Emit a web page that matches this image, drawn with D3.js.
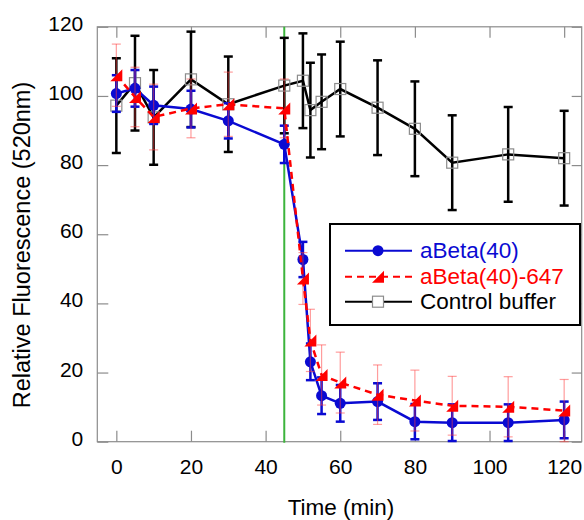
<!DOCTYPE html>
<html>
<head>
<meta charset="utf-8">
<script src="https://cdn.jsdelivr.net/npm/d3@7"></script>
<style>
  body { margin: 0; background: #fff; }
  svg text { font-family: Arial, "Liberation Sans", sans-serif; }
</style>
</head>
<body>
<div id="chart"></div>
<script>
const times = [0, 5, 10, 20, 30, 45, 50, 52, 55, 60, 70, 80, 90, 105, 120];

const abeta = [100.7, 102.2, 97.3, 96.2, 92.8, 86.0, 52.7, 23.1, 13.3, 11.1, 11.6, 5.8, 5.5, 5.5, 6.3];
const abetaErr = [5.3, 5.3, 5.4, 5.3, 5.1, 5.4, 5.1, 5.3, 5.3, 5.3, 5.3, 5.1, 5.3, 5.3, 5.3];

const abeta647 = [106.0, 99.7, 93.9, 96.4, 97.6, 96.4, 47.2, 29.3, 19.3, 17.1, 13.6, 11.9, 10.4, 10.1, 9.0];
const abeta647Err = [9.0, 8.6, 9.5, 8.5, 9.3, 8.5, 7.5, 9.0, 8.7, 8.8, 8.6, 8.8, 8.5, 8.7, 9.0];

const control = [97.2, 103.7, 93.8, 104.8, 97.6, 103.0, 104.4, 95.9, 98.3, 102.0, 96.6, 90.5, 80.7, 83.1, 82.0];
const controlErr = [13.7, 13.7, 13.7, 13.8, 13.8, 13.8, 13.7, 13.7, 13.7, 13.7, 13.7, 13.7, 13.7, 13.7, 13.7];

const xTicks = [0, 20, 40, 60, 80, 100, 120];
const yTicks = [0, 20, 40, 60, 80, 100, 120];
const injectionTime = 45;

const seriesNames = ['aBeta(40)', 'aBeta(40)-647', 'Control buffer'];

function drawChart() {
    const width = 584, height = 520;
    const box = { left: 97.3, right: 581.7, top: 26.8, bottom: 441.7 };

    const svg = d3.select('#chart').append('svg')
        .attr('width', width)
        .attr('height', height);

    const x = d3.scaleLinear().domain([-5.1, 124.7]).range([box.left, box.right]);
    const y = d3.scaleLinear().domain([0, 120]).range([box.bottom, box.top]);

    // frame
    svg.append('rect')
        .attr('x', box.left).attr('y', box.top)
        .attr('width', box.right - box.left).attr('height', box.bottom - box.top)
        .attr('fill', 'none').attr('stroke', '#8c8c8c').attr('stroke-width', 1.2);

    // axes, ticks pointing inward on all four sides
    const styleAxis = g => {
        g.select('.domain').remove();
        g.selectAll('.tick line').attr('stroke', '#8c8c8c').attr('stroke-width', 1.2);
        g.selectAll('.tick text').attr('fill', '#000').attr('font-size', 21)
            .attr('font-family', 'Arial, "Liberation Sans", sans-serif');
    };

    svg.append('g')
        .attr('transform', `translate(0,${box.bottom})`)
        .call(d3.axisBottom(x).tickValues(xTicks).tickSizeInner(-11).tickSizeOuter(0).tickPadding(17))
        .call(styleAxis);

    svg.append('g')
        .attr('transform', `translate(0,${box.top})`)
        .call(d3.axisTop(x).tickValues(xTicks).tickSizeInner(-11).tickSizeOuter(0).tickFormat(''))
        .call(styleAxis);

    svg.append('g')
        .attr('transform', `translate(${box.left},0)`)
        .call(d3.axisLeft(y).tickValues(yTicks).tickSizeInner(-11).tickSizeOuter(0).tickPadding(14))
        .call(styleAxis)
        .call(g => g.selectAll('.tick text').attr('dy', '0.17em'));

    svg.append('g')
        .attr('transform', `translate(${box.right},0)`)
        .call(d3.axisRight(y).tickValues(yTicks).tickSizeInner(-10).tickSizeOuter(0).tickFormat(''))
        .call(styleAxis);

    // axis titles
    svg.append('text')
        .attr('x', 341).attr('y', 515)
        .attr('text-anchor', 'middle')
        .attr('font-size', 22.5)
        .text('Time (min)');

    svg.append('text')
        .attr('transform', 'translate(30,245) rotate(-90)')
        .attr('text-anchor', 'middle')
        .attr('font-size', 23.5)
        .text('Relative Fluorescence (520nm)');

    // injection marker
    svg.append('line')
        .attr('x1', x(injectionTime)).attr('x2', x(injectionTime))
        .attr('y1', box.top).attr('y2', box.bottom + 1)
        .attr('stroke', '#3cb43c').attr('stroke-width', 2);

    const line = d3.line()
        .x(d => x(d.t))
        .y(d => y(d.v));

    const triPath = 'M-6,6L6,6L6,-6Z';

    const series = [
        { values: control, errors: controlErr, color: '#000', errColor: '#000', errWidth: 2.5, dash: null, marker: 'square' },
        { values: abeta, errors: abetaErr, color: '#0a0ad2', errColor: '#0a0ad2', errWidth: 2.5, dash: null, marker: 'circle' },
        { values: abeta647, errors: abeta647Err, color: '#ff0000', errColor: 'rgba(255,60,60,0.5)', errWidth: 1.2, dash: '7,5', marker: 'triangle' }
    ];

    series.forEach(s => {
        const data = times.map((t, i) => ({ t: t, v: s.values[i], e: s.errors[i] }));
        const g = svg.append('g');

        // error bars
        const eb = g.append('g').selectAll('g').data(data).join('g')
            .attr('stroke', s.errColor).attr('stroke-width', s.errWidth);
        eb.append('line')
            .attr('x1', d => x(d.t)).attr('x2', d => x(d.t))
            .attr('y1', d => y(d.v - d.e)).attr('y2', d => y(d.v + d.e));
        eb.append('line')
            .attr('x1', d => x(d.t) - 4.5).attr('x2', d => x(d.t) + 4.5)
            .attr('y1', d => y(d.v + d.e)).attr('y2', d => y(d.v + d.e));
        eb.append('line')
            .attr('x1', d => x(d.t) - 4.5).attr('x2', d => x(d.t) + 4.5)
            .attr('y1', d => y(d.v - d.e)).attr('y2', d => y(d.v - d.e));

        g.append('path')
            .datum(data)
            .attr('fill', 'none')
            .attr('stroke', s.color)
            .attr('stroke-width', 2.5)
            .attr('stroke-dasharray', s.dash)
            .attr('d', line);

        const m = g.append('g').selectAll('.m').data(data);
        if (s.marker === 'circle') {
            m.join('circle')
                .attr('cx', d => x(d.t)).attr('cy', d => y(d.v))
                .attr('r', 5.5).attr('fill', s.color);
        } else if (s.marker === 'square') {
            m.join('rect')
                .attr('x', d => x(d.t) - 5.5).attr('y', d => y(d.v) - 5.5)
                .attr('width', 11).attr('height', 11)
                .attr('fill', 'none').attr('stroke', '#8c8c8c').attr('stroke-width', 1.2);
        } else {
            m.join('path')
                .attr('transform', d => `translate(${x(d.t)},${y(d.v)})`)
                .attr('d', triPath).attr('fill', s.color);
        }
    });

    // legend
    const legend = svg.append('g');
    legend.append('rect')
        .attr('x', 330).attr('y', 224).attr('width', 250).attr('height', 101)
        .attr('fill', '#fff').attr('stroke', '#000').attr('stroke-width', 2);

    const rowY = [250.7, 276.7, 301.7];
    const legendStyles = [series[1], series[2], series[0]];
    seriesNames.forEach((name, i) => {
        const s = legendStyles[i];
        const row = legend.append('g').attr('transform', `translate(0,${rowY[i]})`);
        row.append('line')
            .attr('x1', 345).attr('x2', 412).attr('y1', 0).attr('y2', 0)
            .attr('stroke', s.color).attr('stroke-width', 2)
            .attr('stroke-dasharray', s.dash);
        if (s.marker === 'circle') {
            row.append('circle').attr('cx', 378).attr('cy', 0).attr('r', 5.5).attr('fill', s.color);
        } else if (s.marker === 'square') {
            row.append('rect').attr('x', 372.5).attr('y', -5.5).attr('width', 11).attr('height', 11)
                .attr('fill', '#fff').attr('stroke', '#8c8c8c').attr('stroke-width', 1.2);
        } else {
            row.append('path').attr('transform', 'translate(378,0)').attr('d', triPath).attr('fill', s.color);
        }
        row.append('text')
            .attr('x', 420).attr('y', 7.5)
            .attr('font-size', 22.5)
            .attr('fill', s.color)
            .text(name);
    });
}

drawChart();
</script>
</body>
</html>
